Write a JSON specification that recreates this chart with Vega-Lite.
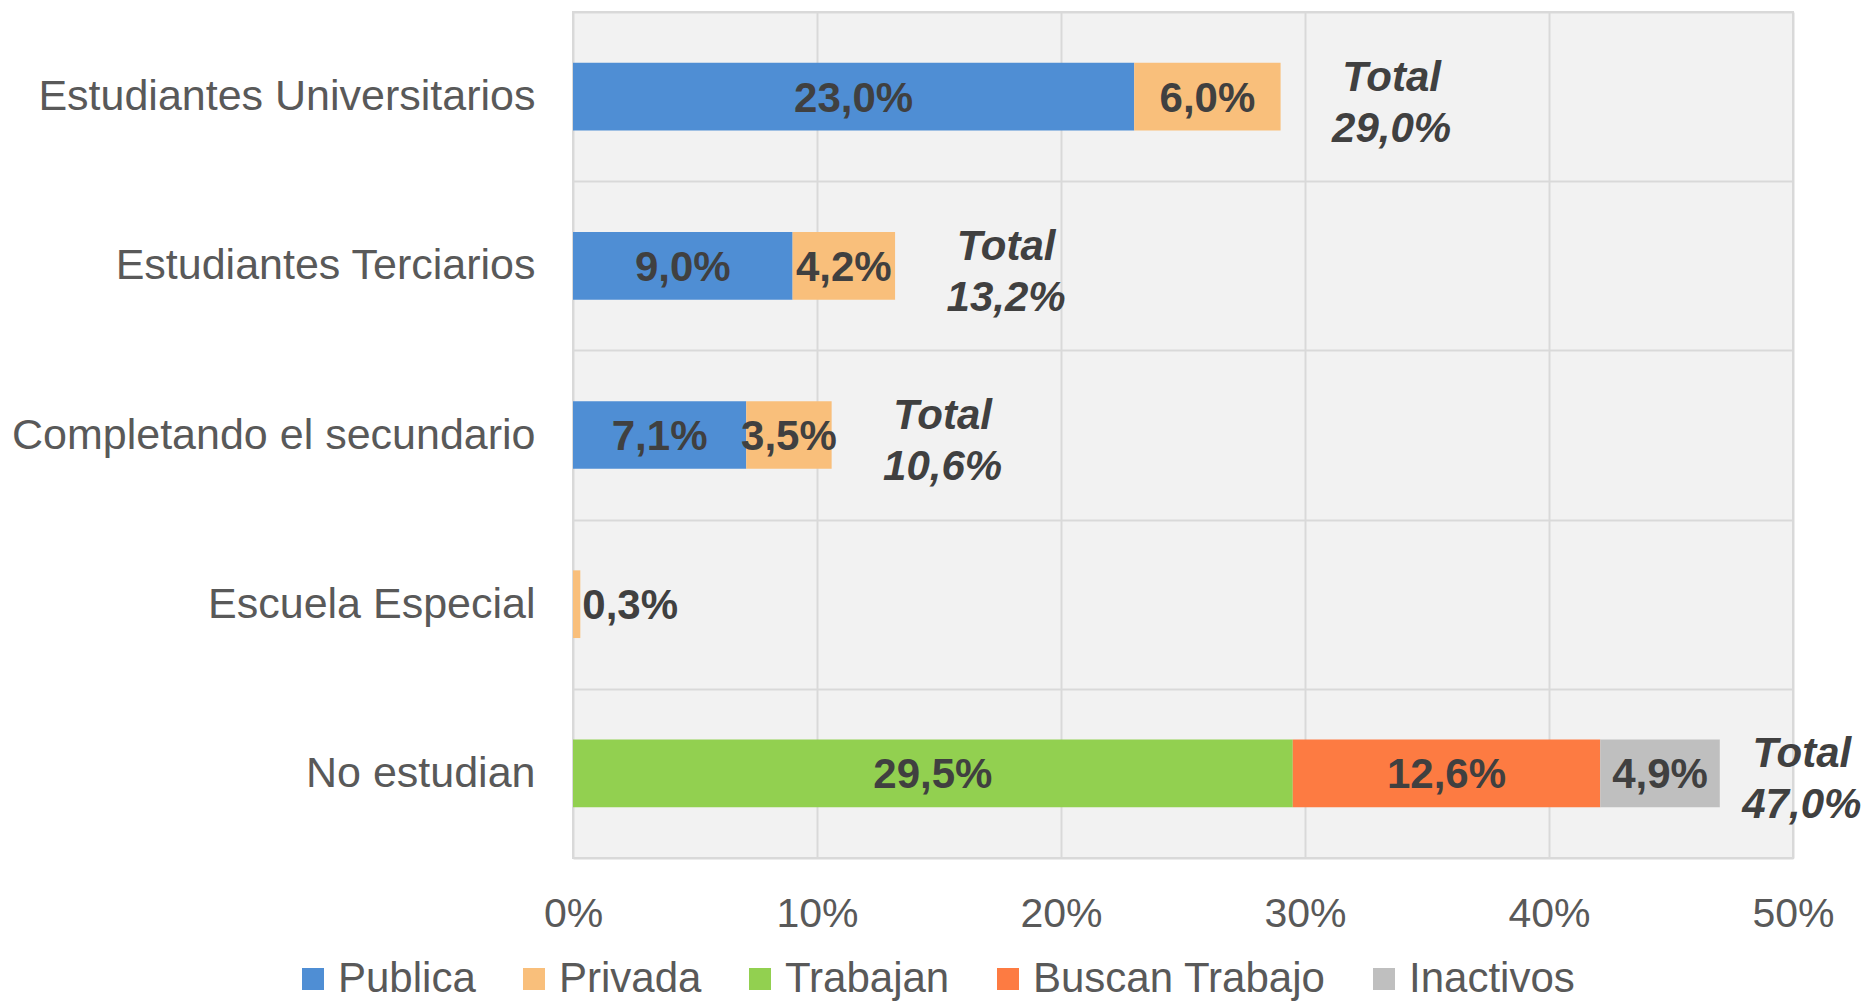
{
  "$schema": "https://vega.github.io/schema/vega-lite/v6.json",
  "autosize": {"type": "none"},
  "padding": {"left": 573, "top": 12, "right": 74, "bottom": 146},
  "width": 1220,
  "height": 846,
  "background": "#ffffff",
  "config": {
    "font": "Liberation Sans",
    "locale": {"number": {"decimal": ",", "thousands": ".", "grouping": [3], "currency": ["", ""]}},
    "view": {"fill": "#f2f2f2", "stroke": "#d9d9d9", "strokeWidth": 2}
  },
  "datasets": {
    "segs": [
      {"cat": "Estudiantes Universitarios", "serie": "Publica", "k": 1, "v": 0.230},
      {"cat": "Estudiantes Universitarios", "serie": "Privada", "k": 2, "v": 0.060},
      {"cat": "Estudiantes Terciarios", "serie": "Publica", "k": 1, "v": 0.090},
      {"cat": "Estudiantes Terciarios", "serie": "Privada", "k": 2, "v": 0.042},
      {"cat": "Completando el secundario", "serie": "Publica", "k": 1, "v": 0.071},
      {"cat": "Completando el secundario", "serie": "Privada", "k": 2, "v": 0.035},
      {"cat": "Escuela Especial", "serie": "Privada", "k": 2, "v": 0.003},
      {"cat": "No estudian", "serie": "Trabajan", "k": 3, "v": 0.295},
      {"cat": "No estudian", "serie": "Buscan Trabajo", "k": 4, "v": 0.126},
      {"cat": "No estudian", "serie": "Inactivos", "k": 5, "v": 0.049}
    ],
    "totals": [
      {"cat": "Estudiantes Universitarios", "total": 0.290, "label": "Total\n29,0%"},
      {"cat": "Estudiantes Terciarios", "total": 0.132, "label": "Total\n13,2%"},
      {"cat": "Completando el secundario", "total": 0.106, "label": "Total\n10,6%"},
      {"cat": "No estudian", "total": 0.470, "label": "Total\n47,0%"}
    ]
  },
  "data": {"name": "segs"},
  "layer": [
    {
      "transform": [
        {"stack": "v", "groupby": ["cat"], "sort": [{"field": "k", "order": "ascending"}], "as": ["x0", "x1"]}
      ],
      "mark": {"type": "bar", "height": {"band": 0.4}},
      "encoding": {
        "y": {
          "field": "cat", "type": "nominal",
          "sort": ["Estudiantes Universitarios", "Estudiantes Terciarios", "Completando el secundario", "Escuela Especial", "No estudian"],
          "scale": {"paddingInner": 0, "paddingOuter": 0},
          "axis": {
            "title": null, "domain": false, "ticks": false, "labelFontSize": 43, "labelColor": "#595959",
            "labelPadding": 38, "labelLimit": 700, "grid": true, "tickBand": "extent", "gridColor": "#d9d9d9", "gridWidth": 2
          }
        },
        "x": {
          "field": "x0", "type": "quantitative",
          "scale": {"domain": [0, 0.5], "nice": false},
          "axis": {
            "title": null, "format": ".0%", "values": [0, 0.1, 0.2, 0.3, 0.4, 0.5],
            "labelOverlap": false, "labelFlush": false,
            "domain": false, "ticks": false, "labelFontSize": 41, "labelColor": "#595959", "labelPadding": 36,
            "gridColor": "#d9d9d9", "gridWidth": 2
          }
        },
        "x2": {"field": "x1"},
        "color": {
          "field": "serie", "type": "nominal",
          "scale": {
            "domain": ["Publica", "Privada", "Trabajan", "Buscan Trabajo", "Inactivos"],
            "range": ["#4f8ed4", "#f9bf7b", "#92d050", "#fd7b42", "#bfbfbf"]
          },
          "legend": {
            "title": null, "orient": "none", "direction": "horizontal", "legendX": -281, "legendY": 946,
            "symbolType": "square", "symbolSize": 484, "symbolStrokeWidth": 0, "labelFontSize": 42, "labelColor": "#595959",
            "labelOffset": 4, "columnPadding": 37, "labelLimit": 500
          }
        }
      }
    },
    {
      "transform": [
        {"stack": "v", "groupby": ["cat"], "sort": [{"field": "k", "order": "ascending"}], "as": ["x0", "x1"]},
        {"filter": "datum.v >= 0.01"},
        {"calculate": "(datum.x0 + datum.x1) / 2", "as": "mid"}
      ],
      "mark": {"type": "text", "fontSize": 42, "fontWeight": "bold", "color": "#404040", "baseline": "middle", "align": "center", "dy": 2},
      "encoding": {
        "y": {"field": "cat", "type": "nominal", "sort": ["Estudiantes Universitarios", "Estudiantes Terciarios", "Completando el secundario", "Escuela Especial", "No estudian"]},
        "x": {"field": "mid", "type": "quantitative"},
        "text": {"field": "v", "type": "quantitative", "format": ".1%"}
      }
    },
    {
      "transform": [
        {"stack": "v", "groupby": ["cat"], "sort": [{"field": "k", "order": "ascending"}], "as": ["x0", "x1"]},
        {"filter": "datum.v < 0.01"}
      ],
      "mark": {"type": "text", "fontSize": 42, "fontWeight": "bold", "color": "#404040", "baseline": "middle", "align": "left", "dx": 2, "dy": 2},
      "encoding": {
        "y": {"field": "cat", "type": "nominal", "sort": ["Estudiantes Universitarios", "Estudiantes Terciarios", "Completando el secundario", "Escuela Especial", "No estudian"]},
        "x": {"field": "x1", "type": "quantitative"},
        "text": {"field": "v", "type": "quantitative", "format": ".1%"}
      }
    },
    {
      "data": {"name": "totals"},
      "transform": [{"filter": "datum.cat != 'No estudian'"}],
      "mark": {"type": "text", "fontSize": 42, "fontWeight": "bold", "fontStyle": "italic", "color": "#404040", "baseline": "middle", "align": "center", "lineBreak": "\n", "lineHeight": 51, "dx": 111, "dy": -19},
      "encoding": {
        "y": {"field": "cat", "type": "nominal", "sort": ["Estudiantes Universitarios", "Estudiantes Terciarios", "Completando el secundario", "Escuela Especial", "No estudian"]},
        "x": {"field": "total", "type": "quantitative"},
        "text": {"field": "label", "type": "nominal"}
      }
    },
    {
      "data": {"name": "totals"},
      "transform": [{"filter": "datum.cat == 'No estudian'"}],
      "mark": {"type": "text", "fontSize": 42, "fontWeight": "bold", "fontStyle": "italic", "color": "#404040", "baseline": "middle", "align": "center", "lineBreak": "\n", "lineHeight": 51, "dx": 82, "dy": -19},
      "encoding": {
        "y": {"field": "cat", "type": "nominal", "sort": ["Estudiantes Universitarios", "Estudiantes Terciarios", "Completando el secundario", "Escuela Especial", "No estudian"]},
        "x": {"field": "total", "type": "quantitative"},
        "text": {"field": "label", "type": "nominal"}
      }
    }
  ]
}
